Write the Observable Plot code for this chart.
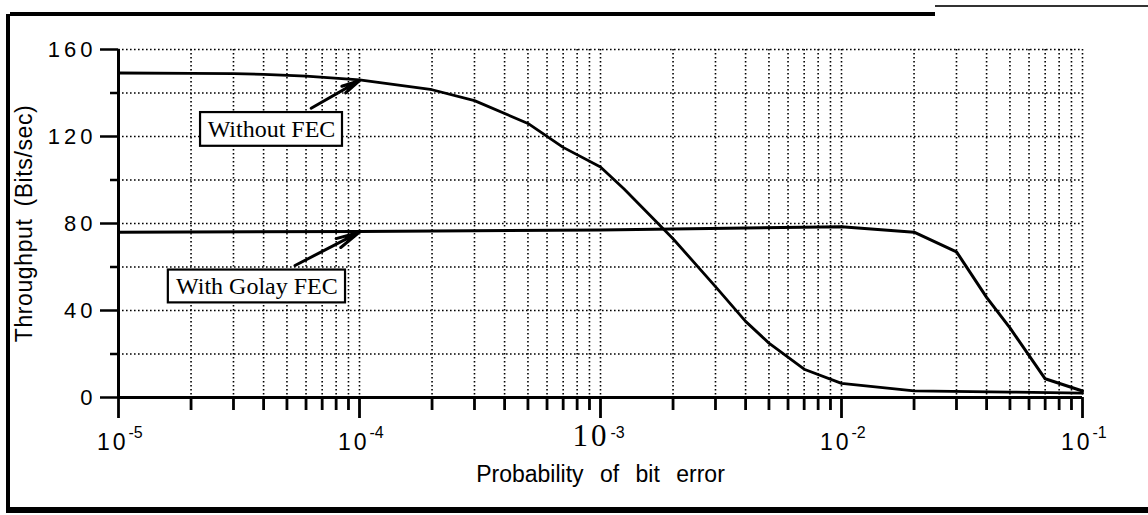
<!DOCTYPE html>
<html>
<head>
<meta charset="utf-8">
<script src="https://cdn.jsdelivr.net/npm/d3@7"></script>
<script src="https://cdn.jsdelivr.net/npm/@observablehq/plot@0.6"></script>
<style>
  html, body { margin: 0; padding: 0; background: #fff; }
  #wrap { position: relative; width: 1148px; height: 515px; overflow: hidden; background: #fff; }
  #wrap svg { position: absolute; left: 0; top: 0; }
  .bd { position: absolute; background: #000; }
</style>
</head>
<body>
<div id="wrap">
  <div class="bd" style="left:10px;top:12px;width:925px;height:4px;"></div>
  <div class="bd" style="left:935px;top:5px;width:213px;height:2px;background:#333;"></div>
  <div class="bd" style="left:6px;top:14px;width:4px;height:498px;"></div>
  <div class="bd" style="left:6px;top:507px;width:1142px;height:6px;"></div>
</div>
<script>
// ---- data ----
const xDecades = [1e-5, 1e-4, 1e-3, 1e-2, 1e-1];
const xExponents = ["-5", "-4", "-3", "-2", "-1"];
const yLabelValues = [0, 40, 80, 120, 160];
const yMinorTicks = [20, 60, 100, 140];
const yGridValues = [20, 40, 60, 80, 100, 120, 140, 160];
const xTitle = "Probability of bit error";
const yTitle = "Throughput (Bits/sec)";

// Throughput without FEC
const berWithout = [1e-5, 2e-5, 3e-5, 4e-5, 6e-5, 1e-4, 2e-4, 3e-4, 5e-4, 7e-4, 1e-3, 1.25e-3, 2e-3, 3e-3, 4e-3, 5e-3, 7e-3, 1e-2, 2e-2, 5e-2, 1e-1];
const thrWithout = [149.2, 149, 148.9, 148.6, 147.8, 146, 141.5, 136.5, 126, 115, 106, 96, 73, 51, 35, 25, 13, 6.5, 3, 2.5, 2];

// Throughput with Golay FEC
const berGolay = [1e-5, 1e-4, 1e-3, 1e-2, 2e-2, 3e-2, 4e-2, 5e-2, 7e-2, 1e-1];
const thrGolay = [76, 76.3, 77, 78.5, 76, 67, 46, 32, 8.6, 3];

// annotation labels
const boxLabels = ["Without FEC", "With Golay FEC"];
const boxX1 = [2.19e-5, 1.61e-5];
const boxX2 = [8.5e-5, 8.75e-5];
const boxY1 = [115.5, 43.5];
const boxY2 = [131, 58.6];
const arrowX1 = [6.3e-5, 5.4e-5];
const arrowY1 = [133, 60.7];
const arrowX2 = [1e-4, 1e-4];
const arrowY2 = [145.7, 76];

// ---- derived tables ----
const minorX = [];
for (const d of xDecades.slice(0, -1)) for (let m = 2; m <= 9; m++) minorX.push(d * m);
const gridX = minorX.concat(xDecades.slice(1));
const without = berWithout.map((b, i) => ({ber: b, thr: thrWithout[i]}));
const golay = berGolay.map((b, i) => ({ber: b, thr: thrGolay[i]}));
const boxes = boxLabels.map((t, i) => ({
  text: t, x1: boxX1[i], x2: boxX2[i], y1: boxY1[i], y2: boxY2[i],
  xc: Math.sqrt(boxX1[i] * boxX2[i]), yc: (boxY1[i] + boxY2[i]) / 2,
  ax1: arrowX1[i], ay1: arrowY1[i], ax2: arrowX2[i], ay2: arrowY2[i]
}));
const xlab = xDecades.map((d, i) => ({d, e: xExponents[i]}));

const sans = "'Liberation Sans', Arial, sans-serif";
const serif = "'Liberation Serif', 'Times New Roman', serif";
const dots = {stroke: "#000", strokeWidth: 1.6, strokeDasharray: "1.6,2.4"};

const chart = Plot.plot({
  width: 1148,
  height: 515,
  marginLeft: 118,
  marginRight: 66,
  marginTop: 49,
  marginBottom: 118,
  style: {background: "transparent"},
  x: {type: "log", domain: [1e-5, 1e-1], axis: null},
  y: {domain: [0, 160], axis: null},
  marks: [
    Plot.ruleY(yGridValues, dots),
    Plot.ruleX(gridX, dots),
    Plot.rect(boxes, {x1: "x1", x2: "x2", y1: "y1", y2: "y2", fill: "#fff", stroke: "#000", strokeWidth: 2.2}),
    Plot.text(boxes, {x: "xc", y: "yc", text: "text", fontFamily: serif, fontSize: 24, fill: "#000"}),
    Plot.line(without, {x: "ber", y: "thr", stroke: "#000", strokeWidth: 2.8, strokeLinejoin: "round"}),
    Plot.line(golay, {x: "ber", y: "thr", stroke: "#000", strokeWidth: 3, strokeLinejoin: "round"}),
    Plot.arrow(boxes, {x1: "ax1", y1: "ay1", x2: "ax2", y2: "ay2", stroke: "#000", strokeWidth: 3, headLength: 13, headAngle: 24}),
    // axes lines
    Plot.ruleX([1e-5], {stroke: "#000", strokeWidth: 3}),
    Plot.ruleY([0], {stroke: "#000", strokeWidth: 3.2}),
    // ticks
    Plot.axisY(yLabelValues, {tickSize: 18, strokeWidth: 2.5, tickFormat: () => "", label: null}),
    Plot.axisY(yMinorTicks, {tickSize: 8, strokeWidth: 2.5, tickFormat: () => "", label: null}),
    Plot.axisX(xDecades, {tickSize: 21, strokeWidth: 2.8, tickFormat: () => "", label: null}),
    Plot.axisX(minorX, {tickSize: 13, strokeWidth: 2.8, tickFormat: () => "", label: null}),
    // tick labels
    Plot.text(yLabelValues, {y: d => d, frameAnchor: "left", dx: -22, textAnchor: "end", text: d => String(d), fontFamily: sans, fontSize: 22, fill: "#000"}),
    Plot.text(xlab, {filter: d => d.d !== 1e-3, x: "d", frameAnchor: "bottom", dy: 52, dx: 10, textAnchor: "end", text: () => "10", fontFamily: sans, fontSize: 23, fill: "#000"}),
    Plot.text(xlab, {filter: d => d.d === 1e-3, x: "d", frameAnchor: "bottom", dy: 48, dx: 9, textAnchor: "end", text: () => "10", fontFamily: serif, fontSize: 31, fill: "#000"}),
    Plot.text(xlab, {x: "d", frameAnchor: "bottom", dy: 40, dx: 10, textAnchor: "start", text: "e", fontFamily: sans, fontSize: 16, fill: "#000"}),
    // axis titles
    Plot.text([xTitle], {frameAnchor: "bottom", dy: 84, text: d => d, fontFamily: sans, fontSize: 23, fill: "#000"}),
    Plot.text([yTitle], {frameAnchor: "left", dx: -94, rotate: -90, textAnchor: "middle", text: d => d, fontFamily: sans, fontSize: 23, fill: "#000"})
  ]
});
document.getElementById("wrap").appendChild(chart);

// letter/word spacing to mimic the wide spacing of the original lettering
const yLabelSet = new Set(yLabelValues.map(String));
d3.select(chart).selectAll("text").each(function () {
  const t = this.textContent;
  const s = this.style;
  if (yLabelSet.has(t)) s.letterSpacing = "4px";
  else if (t === "10") s.letterSpacing = "3px";
  else if (t === xTitle) s.wordSpacing = "10px";
  else if (t === yTitle) { s.letterSpacing = "0.6px"; s.wordSpacing = "5px"; }
});
</script>
</body>
</html>
